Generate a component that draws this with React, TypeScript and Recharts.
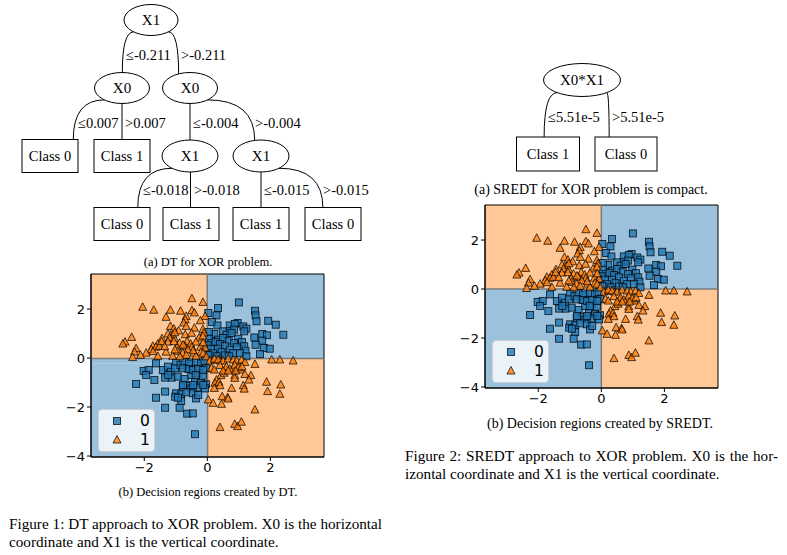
import { ScatterChart, Scatter, XAxis, YAxis, ReferenceArea, ReferenceLine } from 'recharts';

// XOR samples, in data units (X0, X1)
const class0Points: [number, number][] = [
  [1.0, 2.27], [0.34, 2.04], [1.51, 1.93], [0.03, 1.84], [0.29, 1.74], [1.53, 1.74], [1.56, 1.5], [1.93, 1.52],
  [0.15, 1.47], [2.17, 1.36], [0.32, 1.33], [0.96, 1.43], [0.71, 1.33], [0.87, 1.39], [1.14, 1.29], [1.24, 1.2],
  [0.5, 1.09], [0.71, 1.11], [0.85, 1.16], [1.17, 1.09], [0.22, 0.98], [0.05, 1.06], [0.61, 0.95], [0.77, 1.02],
  [1.74, 0.98], [1.89, 0.93], [2.41, 0.95], [1.49, 0.84], [0.05, 0.79], [0.34, 0.75], [0.5, 0.82], [0.68, 0.71],
  [0.98, 0.79], [1.74, 0.71], [0.13, 0.61], [0.26, 0.65], [0.4, 0.57], [0.85, 0.61], [1.1, 0.65], [1.53, 0.54],
  [0.01, 0.52], [0.56, 0.48], [0.93, 0.44], [1.17, 0.48], [1.8, 0.41], [1.98, 0.38], [0.11, 0.38], [0.34, 0.38],
  [0.71, 0.34], [1.21, 0.3], [0.18, 0.2], [0.45, 0.24], [0.82, 0.2], [1.03, 0.2], [1.67, 0.16], [0.03, 0.13],
  [0.56, 0.11], [1.24, 0.07], [0.68, 0.07], [0.29, 0.07],
  [-1.63, -0.22], [-2.02, -0.53], [-1.86, -0.49], [-1.94, -0.69], [-1.41, -0.49], [-1.25, -0.35], [-1.15, -0.56],
  [-0.99, -0.18], [-1.02, -0.42], [-0.85, -0.29], [-0.72, -0.15], [-0.62, -0.42], [-0.51, -0.26], [-0.36, -0.15],
  [-0.2, -0.22], [-0.09, -0.12], [-0.04, -0.42], [-1.34, -0.8], [-1.13, -0.8], [-0.94, -0.76], [-0.72, -0.86],
  [-0.51, -0.69], [-0.3, -0.62], [-0.14, -0.72], [-1.68, -0.9], [-2.26, -1.06], [-0.39, -0.99], [-0.2, -1.03],
  [-0.78, -1.17], [-0.62, -1.13], [-0.04, -1.07], [-0.51, -1.24], [-0.32, -1.21], [-0.07, -1.24], [-1.34, -1.37],
  [-0.99, -1.44], [-0.83, -1.48], [-0.67, -1.4], [-0.46, -1.44], [-1.02, -1.58], [-1.63, -1.62], [-0.83, -1.76],
  [-0.36, -1.65], [-1.34, -2.03], [-0.88, -2.03], [-0.64, -2.27], [-0.46, -2.26], [-0.39, -3.11],
  [-0.58, -0.22], [-0.77, -0.42], [-0.58, -0.45], [-0.45, -0.49], [-0.29, -0.45], [-0.13, -0.49], [-1.24, -0.69],
  [-0.37, -0.69], [-0.77, -1.1], [-0.45, -1.1], [-0.13, -1.1], [-0.29, -1.51], [-0.93, -1.62],
];

const class1Points: [number, number][] = [
  [-0.49, 2.42], [-0.14, 2.27], [-2.05, 2.07], [-1.7, 1.95], [-1.17, 1.95], [-0.85, 1.91], [-0.49, 1.93],
  [-0.41, 1.84], [-0.07, 1.7], [-1.31, 1.66], [-0.67, 1.7], [-0.7, 1.56], [-0.22, 1.52], [-0.75, 1.43],
  [-1.17, 1.29], [-0.67, 1.29], [-0.41, 1.22], [-1.06, 1.18], [-0.91, 1.11], [-0.14, 1.16], [-0.11, 1.02],
  [-1.25, 0.98], [-1.1, 0.95], [-0.7, 0.95], [-2.4, 0.84], [-1.44, 0.79], [-1.2, 0.82], [-1.04, 0.79],
  [-0.26, 0.82], [-0.14, 0.89], [-0.64, 0.68], [-2.61, 0.65], [-2.68, 0.57], [-1.57, 0.57], [-1.25, 0.65],
  [-0.88, 0.61], [-0.53, 0.57], [-0.36, 0.65], [-1.73, 0.48], [-1.63, 0.44], [-1.52, 0.48], [-0.96, 0.44],
  [-0.72, 0.48], [-0.49, 0.44], [-0.22, 0.44], [-2.26, 0.38], [-1.78, 0.34], [-0.62, 0.34], [-0.07, 0.41],
  [-2.31, 0.24], [-1.94, 0.2], [-1.31, 0.24], [-0.94, 0.27], [-0.78, 0.2], [-0.43, 0.2], [-0.2, 0.24],
  [-2.12, 0.11], [-1.57, 0.07], [-1.1, 0.07], [-0.67, 0.11], [-0.36, 0.07], [-2.37, 0.02],
  [-1.03, 1.03], [-0.5, 1.01], [-1.06, 0.67], [-1.45, 0.67], [-1.35, 0.46], [-0.77, 0.53], [-0.13, 0.62],
  [-1.72, 0.26], [-1.03, 0.33], [-0.45, 0.3], [-0.13, 0.19], [-0.87, 0.05], [-0.03, 0.05],
  [0.08, -0.12], [0.24, -0.08], [0.4, -0.12], [1.51, -0.26], [2.04, -0.08], [2.3, -0.08], [2.72, -0.12],
  [0.13, -0.42], [0.22, -0.49], [0.58, -0.45], [0.82, -0.42], [1.06, -0.49], [0.43, -0.72], [0.53, -0.62],
  [0.87, -0.72], [0.87, -0.83], [1.19, -0.67], [1.38, -0.72], [1.32, -0.9], [0.29, -0.9], [0.24, -1.03],
  [0.37, -0.99], [0.4, -1.13], [0.22, -1.24], [0.77, -1.24], [1.14, -1.13], [1.17, -1.27], [1.88, -0.99],
  [2.33, -1.1], [1.91, -1.37], [2.3, -1.48], [0.03, -1.71], [0.18, -1.85], [0.47, -1.58], [0.64, -1.62],
  [0.66, -1.67], [0.45, -1.89], [1.51, -2.12], [0.4, -2.84], [0.87, -2.71], [0.96, -2.8], [1.08, -2.62],
  [0.22, -0.04], [0.34, -0.08], [0.5, -0.12], [0.66, -0.04], [0.82, -0.08], [0.93, -0.12], [1.09, -0.08],
  [1.19, -0.18], [0.4, -0.31], [0.61, -0.36], [0.71, -0.45], [0.87, -0.29], [0.98, -0.4], [1.1, -0.36],
  [0.5, -0.53], [0.66, -0.53], [0.9, -0.53],
];

const xTicks = [-2, 0, 2];
const yTicks = [-4, -2, 0, 2];
const X_MIN = -3.69;
const X_MAX = 3.7;
const Y_MIN = -4.04;
const Y_MAX = 3.43;

// split thresholds from the trees
const DT_ROOT = -0.211; // X1
const DT_LOW_X0 = 0.007;
const DT_HIGH_X0 = -0.004;
const DT_LEFT_X1 = -0.018;
const DT_RIGHT_X1 = -0.015;
const SREDT_SPLIT = 5.51e-5; // X0*X1

const BLUE = '#1f77b4';
const ORANGE = '#ff7f0e';
const BLUE_BG = '#9bc1dd';
const ORANGE_BG = '#ffc896';
const SERIF = '"Liberation Serif", "Times New Roman", serif';
const SANS = '"DejaVu Sans", sans-serif';

const class0 = class0Points.map(([x, y]) => ({ x, y }));
const class1 = class1Points.map(([x, y]) => ({ x, y }));

type Region = { x1: number; x2: number; y1: number; y2: number; fill: string };
type Seg = [{ x: number; y: number }, { x: number; y: number }];

const dtRegions: Region[] = [
  { x1: X_MIN, x2: DT_LOW_X0, y1: Y_MIN, y2: DT_ROOT, fill: BLUE_BG },
  { x1: DT_LOW_X0, x2: X_MAX, y1: Y_MIN, y2: DT_ROOT, fill: ORANGE_BG },
  { x1: X_MIN, x2: DT_HIGH_X0, y1: DT_ROOT, y2: DT_LEFT_X1, fill: BLUE_BG },
  { x1: X_MIN, x2: DT_HIGH_X0, y1: DT_LEFT_X1, y2: Y_MAX, fill: ORANGE_BG },
  { x1: DT_HIGH_X0, x2: X_MAX, y1: DT_ROOT, y2: DT_RIGHT_X1, fill: ORANGE_BG },
  { x1: DT_HIGH_X0, x2: X_MAX, y1: DT_RIGHT_X1, y2: Y_MAX, fill: BLUE_BG },
];
const dtLines: Seg[] = [
  [{ x: DT_LOW_X0, y: Y_MIN }, { x: DT_LOW_X0, y: DT_ROOT }],
  [{ x: DT_HIGH_X0, y: DT_ROOT }, { x: DT_HIGH_X0, y: Y_MAX }],
  [{ x: X_MIN, y: DT_LEFT_X1 }, { x: DT_HIGH_X0, y: DT_LEFT_X1 }],
  [{ x: DT_HIGH_X0, y: DT_RIGHT_X1 }, { x: X_MAX, y: DT_RIGHT_X1 }],
];

// product split: boundary hugs the axes
const sredtRegions: Region[] = [
  { x1: 0, x2: X_MAX, y1: 0, y2: Y_MAX, fill: BLUE_BG },
  { x1: X_MIN, x2: 0, y1: Y_MIN, y2: 0, fill: BLUE_BG },
  { x1: X_MIN, x2: 0, y1: 0, y2: Y_MAX, fill: ORANGE_BG },
  { x1: 0, x2: X_MAX, y1: Y_MIN, y2: 0, fill: ORANGE_BG },
];
const sredtLines: Seg[] = [
  [{ x: SREDT_SPLIT, y: Y_MIN }, { x: SREDT_SPLIT, y: Y_MAX }],
  [{ x: X_MIN, y: SREDT_SPLIT }, { x: X_MAX, y: SREDT_SPLIT }],
];

const fmt = (v: number) => (v < 0 ? `\u2212${-v}` : `${v}`);

const Square = (p: any) => (
  <rect x={p.cx - 3.5} y={p.cy - 3.5} width={7} height={7} fill={BLUE} fillOpacity={0.8} stroke="#000" strokeOpacity={0.8} strokeWidth={0.9} />
);
const Triangle = (p: any) => (
  <polygon
    points={`${p.cx},${p.cy - 4.5} ${p.cx - 4},${p.cy + 3} ${p.cx + 4},${p.cy + 3}`}
    fill={ORANGE}
    fillOpacity={0.8}
    stroke="#000"
    strokeOpacity={0.8}
    strokeWidth={0.9}
  />
);

function LegendBox() {
  return (
    <div
      style={{
        position: 'absolute',
        left: 43,
        top: 141,
        width: 57,
        height: 43,
        background: 'rgba(255,255,255,0.8)',
        border: '1px solid #d0d0d0',
        borderRadius: 4,
        boxSizing: 'border-box',
      }}
    >
      <svg width={57} height={43} style={{ position: 'absolute', left: -1, top: -1 }}>
        <Square cx={19} cy={12} />
        <Triangle cx={19} cy={31} />
        <text x={47} y={12} textAnchor="middle" dominantBaseline="central" fontSize={15.5} fontFamily={SANS}>0</text>
        <text x={47} y={31} textAnchor="middle" dominantBaseline="central" fontSize={15.5} fontFamily={SANS}>1</text>
      </svg>
    </div>
  );
}

function RegionPlot({ left, top, regions, lines }: { left: number; top: number; regions: Region[]; lines: Seg[] }) {
  const tick = { fontSize: 13, fill: '#000', fontFamily: SANS };
  return (
    <div style={{ position: 'absolute', left, top, width: 275, height: 209 }}>
      <ScatterChart width={275} height={209} margin={{ top: 6, right: 6, bottom: 0, left: 0 }}>
        <XAxis
          type="number"
          dataKey="x"
          domain={[X_MIN, X_MAX]}
          ticks={xTicks}
          tickFormatter={fmt}
          allowDataOverflow
          height={20}
          tick={tick}
          tickSize={4}
          tickMargin={2}
          stroke="#000"
        />
        <YAxis
          type="number"
          dataKey="y"
          domain={[Y_MIN, Y_MAX]}
          ticks={yTicks}
          tickFormatter={fmt}
          allowDataOverflow
          width={36}
          tick={tick}
          tickSize={4}
          tickMargin={2}
          stroke="#000"
        />
        {regions.map((r, i) => (
          <ReferenceArea key={i} x1={r.x1} x2={r.x2} y1={r.y1} y2={r.y2} fill={r.fill} fillOpacity={1} stroke="none" ifOverflow="hidden" />
        ))}
        {lines.map((s, i) => (
          <ReferenceLine key={i} segment={s} stroke="#7a7a7a" strokeWidth={1.5} ifOverflow="hidden" />
        ))}
        <Scatter data={class0} shape={Square} isAnimationActive={false} />
        <Scatter data={class1} shape={Triangle} isAnimationActive={false} />
        <ReferenceArea x1={X_MIN} x2={X_MAX} y1={Y_MIN} y2={Y_MAX} fill="none" stroke="#000" strokeWidth={1} />
      </ScatterChart>
      <LegendBox />
    </div>
  );
}

type TNode = { id: string; label: string; kind: 'ellipse' | 'box'; cx: number; cy: number; w: number; h: number };
type TEdge = { from: string; to: string; label: string; lx: number; ly: number };

const dtNodes: TNode[] = [
  { id: 'r', label: 'X1', kind: 'ellipse', cx: 151, cy: 20, w: 54, h: 31 },
  { id: 'a', label: 'X0', kind: 'ellipse', cx: 122, cy: 88, w: 55, h: 31 },
  { id: 'b', label: 'X0', kind: 'ellipse', cx: 190, cy: 88, w: 55, h: 31 },
  { id: 'a0', label: 'Class 0', kind: 'box', cx: 50, cy: 156, w: 56, h: 33 },
  { id: 'a1', label: 'Class 1', kind: 'box', cx: 122, cy: 156, w: 56, h: 33 },
  { id: 'b0', label: 'X1', kind: 'ellipse', cx: 190, cy: 156, w: 56, h: 32 },
  { id: 'b1', label: 'X1', kind: 'ellipse', cx: 261, cy: 156, w: 56, h: 32 },
  { id: 'c0', label: 'Class 0', kind: 'box', cx: 122, cy: 224, w: 56, h: 33 },
  { id: 'c1', label: 'Class 1', kind: 'box', cx: 191, cy: 224, w: 56, h: 33 },
  { id: 'd0', label: 'Class 1', kind: 'box', cx: 261, cy: 224, w: 56, h: 33 },
  { id: 'd1', label: 'Class 0', kind: 'box', cx: 333, cy: 224, w: 56, h: 33 },
];
const dtEdges: TEdge[] = [
  { from: 'r', to: 'a', label: '\u2264-0.211', lx: 126, ly: 55 },
  { from: 'r', to: 'b', label: '>-0.211', lx: 181, ly: 55 },
  { from: 'a', to: 'a0', label: '\u22640.007', lx: 78, ly: 123 },
  { from: 'a', to: 'a1', label: '>0.007', lx: 125, ly: 123 },
  { from: 'b', to: 'b0', label: '\u2264-0.004', lx: 193, ly: 123 },
  { from: 'b', to: 'b1', label: '>-0.004', lx: 255, ly: 123 },
  { from: 'b0', to: 'c0', label: '\u2264-0.018', lx: 143, ly: 190 },
  { from: 'b0', to: 'c1', label: '>-0.018', lx: 194, ly: 190 },
  { from: 'b1', to: 'd0', label: '\u2264-0.015', lx: 264, ly: 190 },
  { from: 'b1', to: 'd1', label: '>-0.015', lx: 323, ly: 190 },
];

const srNodes: TNode[] = [
  { id: 'r', label: 'X0*X1', kind: 'ellipse', cx: 582, cy: 80, w: 77, h: 33 },
  { id: 'l', label: 'Class 1', kind: 'box', cx: 548, cy: 154, w: 63, h: 34 },
  { id: 'g', label: 'Class 0', kind: 'box', cx: 626, cy: 154, w: 62, h: 34 },
];
const srEdges: TEdge[] = [
  { from: 'r', to: 'l', label: '\u22645.51e-5', lx: 548, ly: 117 },
  { from: 'r', to: 'g', label: '>5.51e-5', lx: 612, ly: 117 },
];

// curve that leaves the parent sideways and lands on the child, passing just left of its label
function edgePath(p: TNode, c: TNode, e: TEdge) {
  const dx = c.cx - p.cx;
  if (Math.abs(dx) < 4) {
    const x = (p.cx + c.cx) / 2;
    return `M${x},${p.cy + p.h / 2} L${x},${c.cy - c.h / 2}`;
  }
  const sgn = Math.sign(dx);
  const sx = p.cx + sgn * (p.w / 2) * 0.643;
  const sy = p.cy + (p.h / 2) * 0.766;
  let ey = c.cy - c.h / 2;
  const mx = e.lx - 3;
  const t = Math.sqrt((e.ly - sy) / (ey - sy));
  const k = (1 - t) * (1 - t);
  const ex = (mx - k * sx) / (1 - k);
  if (c.kind === 'ellipse') {
    const u = (ex - c.cx) / (c.w / 2);
    ey = c.cy - (c.h / 2) * Math.sqrt(Math.max(0, 1 - u * u));
  }
  return `M${sx},${sy} Q${ex},${sy} ${ex},${ey}`;
}

function Tree({ nodes, edges }: { nodes: TNode[]; edges: TEdge[] }) {
  const byId = Object.fromEntries(nodes.map((n) => [n.id, n]));
  return (
    <g fontFamily={SERIF}>
      {edges.map((e, i) => (
        <g key={i}>
          <path d={edgePath(byId[e.from], byId[e.to], e)} fill="none" stroke="#000" strokeWidth={1} />
          <text x={e.lx} y={e.ly} dominantBaseline="central" fontSize={14.5}>{e.label}</text>
        </g>
      ))}
      {nodes.map((n) =>
        n.kind === 'ellipse' ? (
          <g key={n.id}>
            <ellipse cx={n.cx} cy={n.cy} rx={n.w / 2} ry={n.h / 2} fill="#fff" stroke="#000" strokeWidth={1} />
            <text x={n.cx} y={n.cy} textAnchor="middle" dominantBaseline="central" fontSize={15}>{n.label}</text>
          </g>
        ) : (
          <g key={n.id}>
            <rect x={n.cx - n.w / 2} y={n.cy - n.h / 2} width={n.w} height={n.h} fill="#fff" stroke="#000" strokeWidth={1} />
            <text x={n.cx} y={n.cy} textAnchor="middle" dominantBaseline="central" fontSize={14.5}>{n.label}</text>
          </g>
        ),
      )}
    </g>
  );
}

const Caption = ({ cx, cy, text, size = 12.5 }: { cx: number; cy: number; text: string; size?: number }) => (
  <div
    style={{
      position: 'absolute',
      left: cx - 200,
      top: cy - 9,
      width: 400,
      lineHeight: '18px',
      textAlign: 'center',
      fontFamily: SERIF,
      fontSize: size,
      whiteSpace: 'nowrap',
    }}
  >
    {text}
  </div>
);

const Line = ({ x, cy, w, text, justify }: { x: number; cy: number; w: number; text: string; justify?: boolean }) => (
  <div
    style={{
      position: 'absolute',
      left: x,
      top: cy - 9,
      width: w,
      lineHeight: '18px',
      fontFamily: SERIF,
      fontSize: 15.2,
      whiteSpace: 'nowrap',
      textAlign: justify ? 'justify' : 'left',
      textAlignLast: justify ? 'justify' : 'left',
    }}
  >
    {text}
  </div>
);

export default function App() {
  return (
    <div style={{ position: 'absolute', left: 0, top: 0, width: 787, height: 555, background: '#fff', overflow: 'hidden' }}>
      <svg width={787} height={555} style={{ position: 'absolute', left: 0, top: 0 }}>
        <Tree nodes={dtNodes} edges={dtEdges} />
        <Tree nodes={srNodes} edges={srEdges} />
      </svg>
      <Caption cx={208} cy={262} text="(a) DT for XOR problem." />
      <RegionPlot left={55} top={268} regions={dtRegions} lines={dtLines} />
      <Caption cx={208} cy={492} text="(b) Decision regions created by DT." />
      <Line x={9} cy={524} w={373} text="Figure 1: DT approach to XOR problem. X0 is the horizontal" justify />
      <Line x={9} cy={542} w={373} text="coordinate and X1 is the vertical coordinate." />

      <Caption cx={591} cy={190} text="(a) SREDT for XOR problem is compact." size={14} />
      <RegionPlot left={449} top={199} regions={sredtRegions} lines={sredtLines} />
      <Caption cx={600} cy={424} text="(b) Decision regions created by SREDT." size={14} />
      <Line x={405} cy={456} w={373} text="Figure 2: SREDT approach to XOR problem. X0 is the hor-" justify />
      <Line x={405} cy={474} w={373} text="izontal coordinate and X1 is the vertical coordinate." />
    </div>
  );
}
